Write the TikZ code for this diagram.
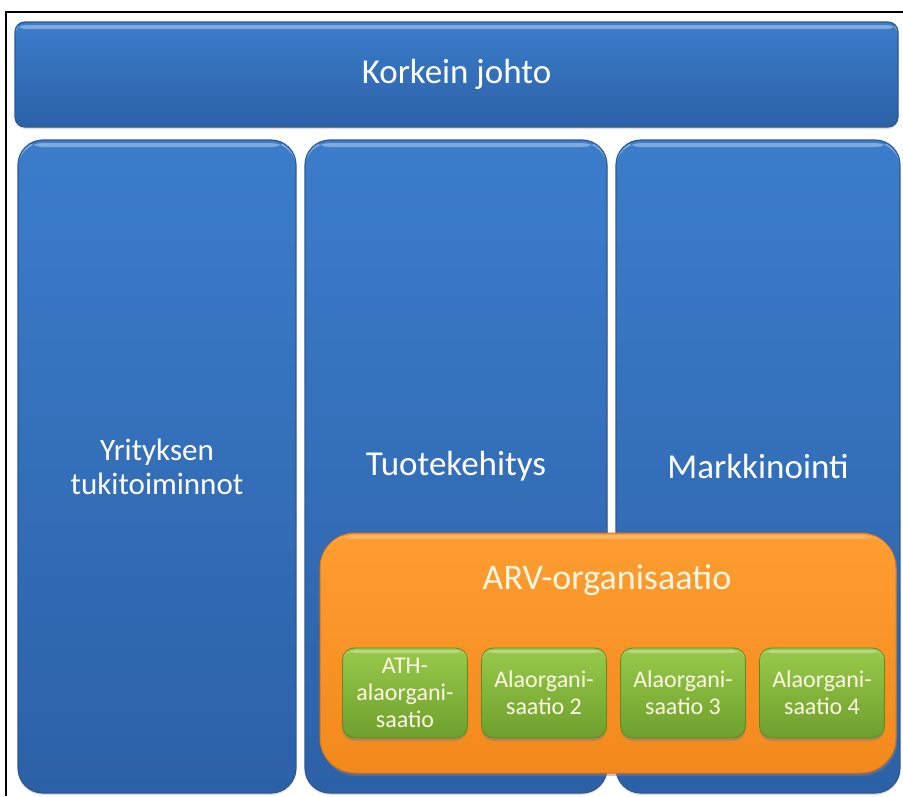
\documentclass[tikz,border=0pt]{standalone}
\usepackage{fontspec}
\setmainfont{Carlito}
\usetikzlibrary{shadows}
\definecolor{bluetop}{HTML}{3B7DCB}
\definecolor{bluebot}{HTML}{2C61A7}
\definecolor{blueedge}{HTML}{2A5896}
\definecolor{orgtop}{HTML}{FF9D31}
\definecolor{orgbot}{HTML}{F2891C}
\definecolor{orgedge}{HTML}{D8731A}
\definecolor{grntop}{HTML}{97CA4A}
\definecolor{grnbot}{HTML}{6E9F2D}
\definecolor{grnedge}{HTML}{5E8A26}
\definecolor{cream}{HTML}{FFF8E4}
\begin{document}
\begin{tikzpicture}[x=1pt,y=-1pt,
  bluebox/.style={rectangle, rounded corners=#1, top color=bluetop, bottom color=bluebot,
    draw=blueedge, line width=1.2pt, text=white, align=center, inner sep=0pt, outer sep=0pt,
    drop shadow={opacity=0.25,shadow xshift=0pt,shadow yshift=-2pt},
    path picture={\fill[white,opacity=0.35] ([yshift=-3pt]path picture bounding box.north west) rectangle ([yshift=-7pt]path picture bounding box.north east);},
    font=\fontsize{35}{39}\selectfont},
  bluebox/.default=25,
  orangebox/.style={rectangle, rounded corners=35pt, top color=orgtop, bottom color=orgbot,
    draw=orgedge, line width=1pt, inner sep=0pt, outer sep=0pt,
    drop shadow={opacity=0.45,shadow xshift=1pt,shadow yshift=-3pt},
    path picture={\fill[white,opacity=0.25] ([yshift=-2pt]path picture bounding box.north west) rectangle ([yshift=-6pt]path picture bounding box.north east);}},
  greenbox/.style={rectangle, rounded corners=12pt, top color=grntop, bottom color=grnbot,
    draw=grnedge, line width=0.8pt, text=cream, align=center, inner sep=0pt, outer sep=0pt,
    minimum width=125pt, minimum height=90pt,
    drop shadow={opacity=0.45,shadow xshift=0pt,shadow yshift=-3pt},
    path picture={\fill[white,opacity=0.3] ([yshift=-2pt]path picture bounding box.north west) rectangle ([yshift=-5pt]path picture bounding box.north east);},
    font=\fontsize{24}{27}\selectfont},
  frameline/.style={line width=2pt, black}
]
\useasboundingbox (0,0) rectangle (903,796);
\fill[white] (0,0) rectangle (903,796);
\coordinate (fbl) at (6,796);
\coordinate (ftl) at (6,12);
\coordinate (ftr) at (903,12);
\draw[frameline] (fbl) -- (ftl) -- (ftr);

\node[bluebox=10pt, minimum width=883pt, minimum height=105pt] (top) at (456.5,74.5) {Korkein johto};

\node[bluebox, minimum width=278pt, minimum height=653pt, font=\fontsize{31}{34}\selectfont] (c1) at (157,466.5) {Yrityksen\\tukitoiminnot};
\node[bluebox, minimum width=302pt, minimum height=653pt] (c2) at (456,466.5) {Tuotekehitys};
\node[bluebox, minimum width=284pt, minimum height=653pt] (c3) at (758,466.5) {Markkinointi};

\node[orangebox, minimum width=576pt, minimum height=240pt] (arv) at (608,653) {};
\node[text=cream, font=\fontsize{36}{40}\selectfont, inner sep=0pt] (arvlabel) at (607,580) {ARV-organisaatio};

\node[greenbox] (g1) at (405,693) {ATH-\\alaorgani-\\saatio};
\node[greenbox] (g2) at (544,693) {Alaorgani-\\saatio 2};
\node[greenbox] (g3) at (683,693) {Alaorgani-\\saatio 3};
\node[greenbox] (g4) at (822,693) {Alaorgani-\\saatio 4};
\end{tikzpicture}
\end{document}
